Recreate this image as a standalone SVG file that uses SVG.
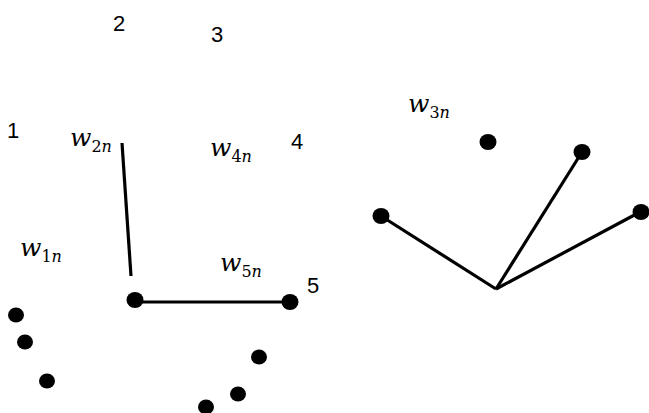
<svg xmlns="http://www.w3.org/2000/svg" width="649" height="413" viewBox="0 0 649 413">
<style>
.num{font-family:"Liberation Sans",Arial,sans-serif;font-size:22px;fill:#000}
.w{font-family:"DejaVu Serif","Liberation Serif",serif;font-style:italic;font-size:25px;fill:#000}
.sub{font-size:16px;font-style:normal}
.it{font-style:italic}
.dot{fill:#000}
.ln{stroke:#000;stroke-width:3.2;fill:none;stroke-linecap:butt}
</style>
<rect width="649" height="413" fill="#fff"/>
<g id="labels">
<text class="num" x="113" y="31">2</text>
<text class="num" x="211" y="42">3</text>
<text class="num" x="7" y="138">1</text>
<text class="num" x="291" y="149">4</text>
<text class="num" x="307" y="293">5</text>
<text class="w" x="70" y="146">w<tspan class="sub" dy="6">2<tspan class="it">n</tspan></tspan></text>
<text class="w" x="210" y="156">w<tspan class="sub" dy="6">4<tspan class="it">n</tspan></tspan></text>
<text class="w" x="20" y="256">w<tspan class="sub" dy="6">1<tspan class="it">n</tspan></tspan></text>
<text class="w" x="220" y="271">w<tspan class="sub" dy="6">5<tspan class="it">n</tspan></tspan></text>
<text class="w" x="408" y="112">w<tspan class="sub" dy="6">3<tspan class="it">n</tspan></tspan></text>
</g>
<g id="connectors">
<line class="ln" x1="122" y1="143" x2="131" y2="276"/>
<line class="ln" x1="135" y1="302" x2="290" y2="302"/>
<line class="ln" x1="381" y1="216" x2="496" y2="289"/>
<line class="ln" x1="582" y1="152" x2="496" y2="289"/>
<line class="ln" x1="640" y1="212" x2="496" y2="289"/>
</g>
<g id="node-a"><ellipse class="dot" cx="135" cy="300" rx="8.5" ry="8"/></g>
<g id="node-b"><ellipse class="dot" cx="290" cy="302" rx="8.5" ry="8"/></g>
<g id="node-c"><ellipse class="dot" cx="16" cy="315" rx="8" ry="7.5"/></g>
<g id="node-d"><ellipse class="dot" cx="25" cy="342" rx="8" ry="7.5"/></g>
<g id="node-e"><ellipse class="dot" cx="47" cy="381" rx="8" ry="7.5"/></g>
<g id="node-f"><ellipse class="dot" cx="259" cy="357" rx="8" ry="7.5"/></g>
<g id="node-g"><ellipse class="dot" cx="238" cy="394" rx="8" ry="7.5"/></g>
<g id="node-h"><ellipse class="dot" cx="206" cy="407" rx="8" ry="7.5"/></g>
<g id="node-i"><ellipse class="dot" cx="488" cy="142" rx="8.5" ry="8"/></g>
<g id="node-j"><ellipse class="dot" cx="582" cy="152" rx="8.5" ry="8"/></g>
<g id="node-k"><ellipse class="dot" cx="381" cy="216" rx="8.5" ry="8"/></g>
<g id="node-l"><ellipse class="dot" cx="641" cy="212" rx="8.5" ry="8"/></g>
</svg>
